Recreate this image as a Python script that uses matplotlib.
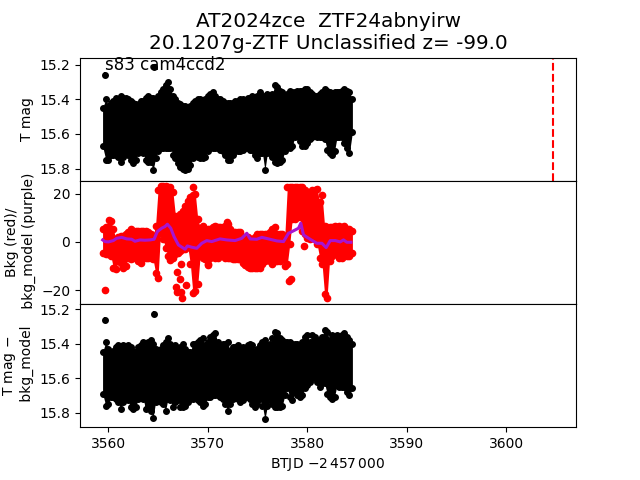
import matplotlib
matplotlib.use('Agg')
import matplotlib.pyplot as plt

# observation times, every quarter day
btjd = [3559.42, 3559.75, 3560.0, 3560.25, 3560.5, 3560.75, 3561.0, 3561.25, 3561.5, 3561.75,
        3562.0, 3562.25, 3562.5, 3562.75, 3563.0, 3563.25, 3563.5, 3563.75, 3564.0, 3564.25,
        3564.5, 3564.75, 3565.0, 3565.25, 3565.5, 3565.75, 3566.0, 3566.25, 3566.5, 3566.75,
        3567.0, 3567.25, 3567.5, 3567.75, 3568.0, 3568.25, 3568.5, 3568.75, 3569.0, 3569.25,
        3569.5, 3569.75, 3570.0, 3570.25, 3570.5, 3570.75, 3571.0, 3571.25, 3571.5, 3571.75,
        3572.0, 3572.25, 3572.5, 3572.75, 3573.0, 3573.25, 3573.5, 3573.75, 3574.0, 3574.25,
        3574.5, 3574.75, 3575.0, 3575.25, 3575.5, 3575.75, 3576.0, 3576.25, 3576.5, 3576.75,
        3577.0, 3577.25, 3577.5, 3577.75, 3578.0, 3578.25, 3578.5, 3578.75, 3579.0, 3579.25,
        3579.5, 3579.75, 3580.0, 3580.25, 3580.5, 3580.75, 3581.0, 3581.25, 3581.5, 3581.75,
        3582.0, 3582.25, 3582.5, 3582.75, 3583.0, 3583.25, 3583.5, 3583.75, 3584.0, 3584.25,
        3584.55]

# top panel, bright and faint edge of the light curve
mag_hi = [15.45, 15.40, 15.44, 15.42, 15.41, 15.39, 15.40, 15.38, 15.39, 15.39,
          15.40, 15.41, 15.42, 15.43, 15.44, 15.41, 15.41, 15.39, 15.38, 15.39,
          15.39, 15.41, 15.38, 15.36, 15.34, 15.32, 15.30, 15.34, 15.38, 15.40,
          15.42, 15.43, 15.44, 15.44, 15.45, 15.44, 15.42, 15.41, 15.40, 15.40,
          15.41, 15.40, 15.38, 15.37, 15.36, 15.38, 15.40, 15.40, 15.41, 15.42,
          15.42, 15.42, 15.42, 15.41, 15.41, 15.40, 15.40, 15.41, 15.39, 15.39,
          15.38, 15.39, 15.38, 15.36, 15.38, 15.38, 15.37, 15.38, 15.37, 15.32,
          15.33, 15.35, 15.36, 15.38, 15.37, 15.35, 15.36, 15.36, 15.35, 15.35,
          15.35, 15.34, 15.34, 15.36, 15.37, 15.38, 15.38, 15.37, 15.36, 15.34,
          15.35, 15.36, 15.37, 15.36, 15.36, 15.36, 15.35, 15.34, 15.35, 15.36, 15.40]
mag_lo = [15.67, 15.75, 15.75, 15.72, 15.72, 15.72, 15.73, 15.76, 15.73, 15.71,
          15.72, 15.75, 15.77, 15.75, 15.71, 15.70, 15.71, 15.75, 15.76, 15.76,
          15.81, 15.74, 15.70, 15.68, 15.68, 15.68, 15.68, 15.68, 15.72, 15.74,
          15.77, 15.79, 15.80, 15.81, 15.80, 15.78, 15.74, 15.72, 15.73, 15.74,
          15.74, 15.73, 15.70, 15.68, 15.68, 15.68, 15.68, 15.69, 15.70, 15.72,
          15.75, 15.75, 15.72, 15.70, 15.70, 15.70, 15.69, 15.68, 15.68, 15.69,
          15.69, 15.72, 15.74, 15.71, 15.71, 15.81, 15.71, 15.71, 15.73, 15.76,
          15.77, 15.76, 15.75, 15.70, 15.67, 15.68, 15.67, 15.62, 15.61, 15.64,
          15.67, 15.67, 15.65, 15.63, 15.62, 15.61, 15.62, 15.62, 15.62, 15.63,
          15.69, 15.71, 15.72, 15.70, 15.62, 15.62, 15.62, 15.65, 15.68, 15.71, 15.59]
out_t = [3559.66, 3564.6]
out_mag = [15.258, 15.215]

# middle panel, background edges
bkg_hi = [5.4, 6.1, 6.1, 8.9, 5.4, 1.2, 1.9, 2.6, 2.6, 3.3,
          4.0, 5.4, 4.7, 4.7, 4.7, 4.7, 4.7, 4.7, 4.0, 3.3,
          2.6, 6.8, 21.7, 23.2, 23.2, 23.2, 22.8, 22.8, 20.7, 10.9,
          10.2, 11.6, 13.0, 15.1, 17.2, 18.6, 19.3, 20.0, 9.5, 5.9,
          6.8, 4.7, 5.4, 5.4, 6.1, 6.8, 6.1, 6.1, 6.1, 6.8,
          7.5, 5.4, 4.0, 4.0, 4.0, 4.0, 1.9, 1.9, 1.9, 1.2,
          1.2, 1.9, 3.3, 3.3, 3.3, 3.3, 3.3, 4.0, 5.4, 6.1,
          3.3, 3.3, 3.3, 2.6, 22.8, 22.8, 22.8, 22.8, 22.8, 22.8,
          22.8, 21.4, 20.7, 20.0, 21.4, 21.4, 22.1, 16.5, 19.3, 6.8,
          6.1, 6.1, 6.1, 6.8, 6.1, 6.8, 6.1, 6.8, 5.4, 5.4, 4.7]
bkg_lo = [-4.4, -5.1, -5.1, -5.8, -10.7, -11.4, -7.9, -8.6, -10.7, -10.0,
          -6.5, -7.2, -6.5, -6.5, -7.9, -8.6, -6.5, -6.5, -6.5, -6.5,
          -7.2, -12.75, -14.8, 3.9, 1.2, -2.6, -6.0, -7.5, -6.5, -5.1,
          -4.4, -3.7, -3.0, -3.0, -2.3, -9.3, -21.1, -20.4, -17.6, -5.1,
          -6.5, -7.2, -9.3, -6.5, -5.8, -6.5, -6.5, -5.8, -5.8, -6.5,
          -6.5, -6.5, -7.2, -7.2, -7.2, -7.2, -8.6, -9.6, -10.4, -10.7,
          -10.7, -11.0, -10.7, -10.7, -9.3, -7.9, -7.2, -7.9, -9.3, -7.9,
          -7.9, -7.9, -7.2, -10.0, -9.3, -0.95, 9.5, 9.5, 10.2, 10.2,
          4.6, 3.2, 1.8, 1.1, 1.8, 1.1, -0.95, -6.5, -9.3, -21.8,
          -23.2, -7.9, -5.8, -5.1, -4.4, -6.5, -6.5, -5.8, -5.8, -5.8, -4.4]
bkg_out_t = [3559.70, 3560.10, 3567.35, 3566.88, 3567.25, 3566.85, 3567.85, 3566.95,
             3567.32, 3567.45, 3568.56, 3570.07, 3571.91, 3578.15, 3578.42, 3579.70]
bkg_out = [-20.0, 9.2, -9.2, -12.6, -15.6, -18.9, -17.9, -20.7,
           -20.7, -23.5, 22.8, -9.6, 8.2, -16.3, -15.6, -1.7]

# background model
model_t = [3559.43, 3559.66, 3560.0, 3560.5, 3560.84, 3561.34, 3561.85, 3562.35, 3562.68,
           3563.19, 3563.69, 3564.19, 3564.6, 3564.93, 3565.37, 3565.7, 3565.94, 3566.28,
           3566.61, 3567.05, 3567.72, 3567.95, 3568.39, 3568.89, 3569.4, 3569.9, 3570.4,
           3571.24, 3571.91, 3572.75, 3573.42, 3573.93, 3574.26, 3574.93, 3575.44, 3576.11,
           3576.95, 3577.62, 3578.12, 3578.62, 3579.13, 3579.36, 3579.63, 3580.3, 3580.97,
           3581.48, 3581.91, 3582.32, 3582.82, 3583.32, 3583.66, 3583.99, 3584.4]
model = [0.83, 0.14, 0.0, 0.55, 1.5, 1.9, 1.25, 1.1, 0.27,
         0.83, 0.69, 0.83, 1.1, 4.3, 5.7, 6.4, 7.36, 5.7,
         2.2, -1.25, -3.06, -1.67, -2.2, -2.64, -0.56, 0.55, 0.14,
         1.25, 0.83, 0.55, 1.5, 3.6, 1.25, 1.1, 1.9, 1.25,
         0.41, 0.14, 3.6, 4.6, 5.7, 7.8, 2.9, 1.1, -0.56,
         -0.56, -2.36, 0.55, 0.55, 0.0, 0.83, -0.14, -0.14]

# bottom panel, magnitude with the model taken out
sub_hi = [15.45, 15.39, 15.43, 15.45, 15.44, 15.42, 15.41, 15.43, 15.41, 15.42,
          15.41, 15.42, 15.44, 15.45, 15.42, 15.41, 15.39, 15.42, 15.39, 15.38,
          15.40, 15.43, 15.46, 15.43, 15.41, 15.39, 15.37, 15.40, 15.43, 15.41,
          15.43, 15.42, 15.40, 15.43, 15.45, 15.45, 15.40, 15.40, 15.39, 15.38,
          15.37, 15.41, 15.39, 15.36, 15.35, 15.34, 15.39, 15.41, 15.40, 15.40,
          15.39, 15.44, 15.42, 15.42, 15.41, 15.43, 15.42, 15.43, 15.41, 15.40,
          15.41, 15.44, 15.43, 15.41, 15.39, 15.38, 15.41, 15.40, 15.37, 15.33,
          15.34, 15.37, 15.38, 15.39, 15.39, 15.39, 15.40, 15.40, 15.40, 15.41,
          15.39, 15.36, 15.35, 15.39, 15.35, 15.36, 15.39, 15.38, 15.36, 15.32,
          15.33, 15.38, 15.35, 15.36, 15.35, 15.36, 15.35, 15.34, 15.36, 15.38, 15.40]
sub_lo = [15.69, 15.76, 15.75, 15.71, 15.71, 15.72, 15.74, 15.78, 15.74, 15.72,
          15.73, 15.77, 15.78, 15.77, 15.72, 15.71, 15.72, 15.78, 15.76, 15.79,
          15.83, 15.74, 15.73, 15.74, 15.75, 15.79, 15.72, 15.73, 15.77, 15.74,
          15.73, 15.77, 15.77, 15.76, 15.74, 15.72, 15.72, 15.70, 15.73, 15.74,
          15.76, 15.75, 15.71, 15.71, 15.70, 15.70, 15.70, 15.71, 15.72, 15.75,
          15.79, 15.75, 15.72, 15.71, 15.72, 15.74, 15.73, 15.71, 15.71, 15.72,
          15.75, 15.77, 15.75, 15.72, 15.76, 15.84, 15.76, 15.73, 15.75, 15.77,
          15.77, 15.77, 15.76, 15.70, 15.66, 15.71, 15.73, 15.68, 15.70, 15.71,
          15.70, 15.66, 15.64, 15.62, 15.60, 15.60, 15.62, 15.65, 15.63, 15.63,
          15.69, 15.71, 15.72, 15.71, 15.64, 15.65, 15.65, 15.65, 15.68, 15.70, 15.66]
sub_out = [15.26, 15.226]

event_t = 3604.75

fig, (ax1, ax2, ax3) = plt.subplots(3, 1, sharex=True)
fig.subplots_adjust(hspace=0)

# Top panel
ax1.fill_between(btjd, mag_lo, mag_hi, color='k', lw=0)
ax1.plot(btjd, mag_hi, 'k.', ms=8)
ax1.plot(btjd, mag_lo, 'k.', ms=8)
ax1.errorbar(out_t, out_mag, yerr=0.015, fmt='k.', ms=8, elinewidth=1.5)
ax1.axvline(event_t, color='r', ls='--', lw=1.5)
ax1.set_ylim(15.87, 15.16)
ax1.set_yticks([15.2, 15.4, 15.6, 15.8])
ax1.set_ylabel('T mag')
ax1.text(3559.65, 15.205, 's83 cam4ccd2', fontsize=12, va='center')
ax1.set_title('AT2024zce  ZTF24abnyirw\n20.1207g-ZTF Unclassified z= -99.0', fontsize=14.4)

# Background panel
ax2.fill_between(btjd, bkg_lo, bkg_hi, color='r', lw=0)
ax2.plot(btjd, bkg_hi, 'r.', ms=9)
ax2.plot(btjd, bkg_lo, 'r.', ms=9)
ax2.plot(bkg_out_t, bkg_out, 'r.', ms=9)
ax2.plot(model_t, model, color='#a814d0', lw=2.2)
ax2.set_ylim(-25.8, 25.4)
ax2.set_yticks([-20, 0, 20])
ax2.set_ylabel('Bkg (red)/\n bkg_model (purple)')

# Corrected panel
ax3.fill_between(btjd, sub_lo, sub_hi, color='k', lw=0)
ax3.plot(btjd, sub_hi, 'k.', ms=8)
ax3.plot(btjd, sub_lo, 'k.', ms=8)
ax3.errorbar(out_t, sub_out, yerr=0.015, fmt='k.', ms=8, elinewidth=1.5)
ax3.set_ylim(15.885, 15.17)
ax3.set_yticks([15.2, 15.4, 15.6, 15.8])
ax3.set_ylabel('T mag $-$\n bkg_model')
ax3.set_xlabel(r'BTJD $-2\,457\,000$')
ax3.set_xlim(3557.15, 3607.04)
ax3.set_xticks([3560, 3570, 3580, 3590, 3600])

ax1.tick_params(axis='x', bottom=False)
ax2.tick_params(axis='x', bottom=False)

plt.savefig('out.png', dpi=100)
